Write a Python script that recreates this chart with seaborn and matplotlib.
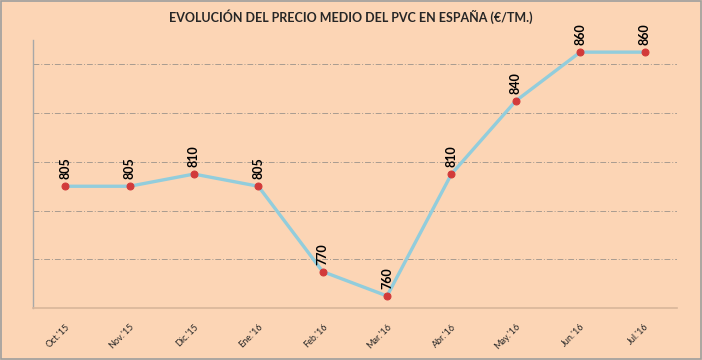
import pandas as pd
import matplotlib.pyplot as plt
import seaborn as sns
from matplotlib.patches import Rectangle

# Datos del gráfico
meses = ["Oct.'15", "Nov.'15", "Dic.'15", "Ene.'16", "Feb.'16",
         "Mar.'16", "Abr.'16", "May.'16", "Jun.'16", "Jul.'16"]
precios = [805, 805, 810, 805, 770, 760, 810, 840, 860, 860]

df = pd.DataFrame({"mes": meses, "precio": precios, "pos": range(len(meses))})

fondo = "#FCD5B5"
sns.set_style("white")
plt.rcParams['font.family'] = ['Lato', 'DejaVu Sans']

fig = plt.figure(figsize=(7.02, 3.6), dpi=100, facecolor=fondo)
ax = fig.add_axes([0.047, 0.144, 0.917, 0.745], facecolor=fondo)

sns.lineplot(data=df, x="pos", y="precio", ax=ax, color="#92CDDC", linewidth=2.4,
             marker="o", markersize=5, markerfacecolor="#D23A3A",
             markeredgecolor="#D23A3A", zorder=3)

for x, y in zip(df["pos"], df["precio"]):
    ax.annotate(str(y), (x, y), xytext=(0, 5), textcoords="offset points",
                rotation=90, ha="center", va="bottom", fontsize=9,
                fontweight="bold", color="black")

ax.set_xlim(-0.5, len(meses) - 0.5)
ax.set_ylim(755, 865)
ax.set_yticks([775, 795, 815, 835, 855])
ax.set_yticklabels([])
ax.tick_params(axis="y", length=0)
ax.set_xticks(df["pos"])
ax.set_xticklabels(meses, rotation=45, fontsize=6.5, ha="right", rotation_mode="anchor")
ax.tick_params(axis="x", length=0, pad=10)
ax.set_xlabel("")
ax.set_ylabel("")
ax.grid(axis="y", color="#A89C90", linestyle=(0, (6, 2, 1, 2)), linewidth=0.7)

for s in ["top", "right"]:
    ax.spines[s].set_visible(False)
ax.spines["left"].set_color("#A8A8A8")
ax.spines["bottom"].set_color("#D9B69A")
ax.spines["left"].set_linewidth(1)
ax.spines["bottom"].set_linewidth(1.2)

fig.text(0.5, 0.953, "EVOLUCIÓN DEL PRECIO MEDIO DEL PVC EN ESPAÑA (€/TM.)",
         ha="center", va="center", fontsize=9, fontweight="bold")

fig.patches.append(Rectangle((0.001, 0.002), 0.997, 0.995, transform=fig.transFigure,
                             fill=False, edgecolor="#9E9E9E", linewidth=1.2))

fig.savefig("out.png", dpi=100, facecolor=fondo)
